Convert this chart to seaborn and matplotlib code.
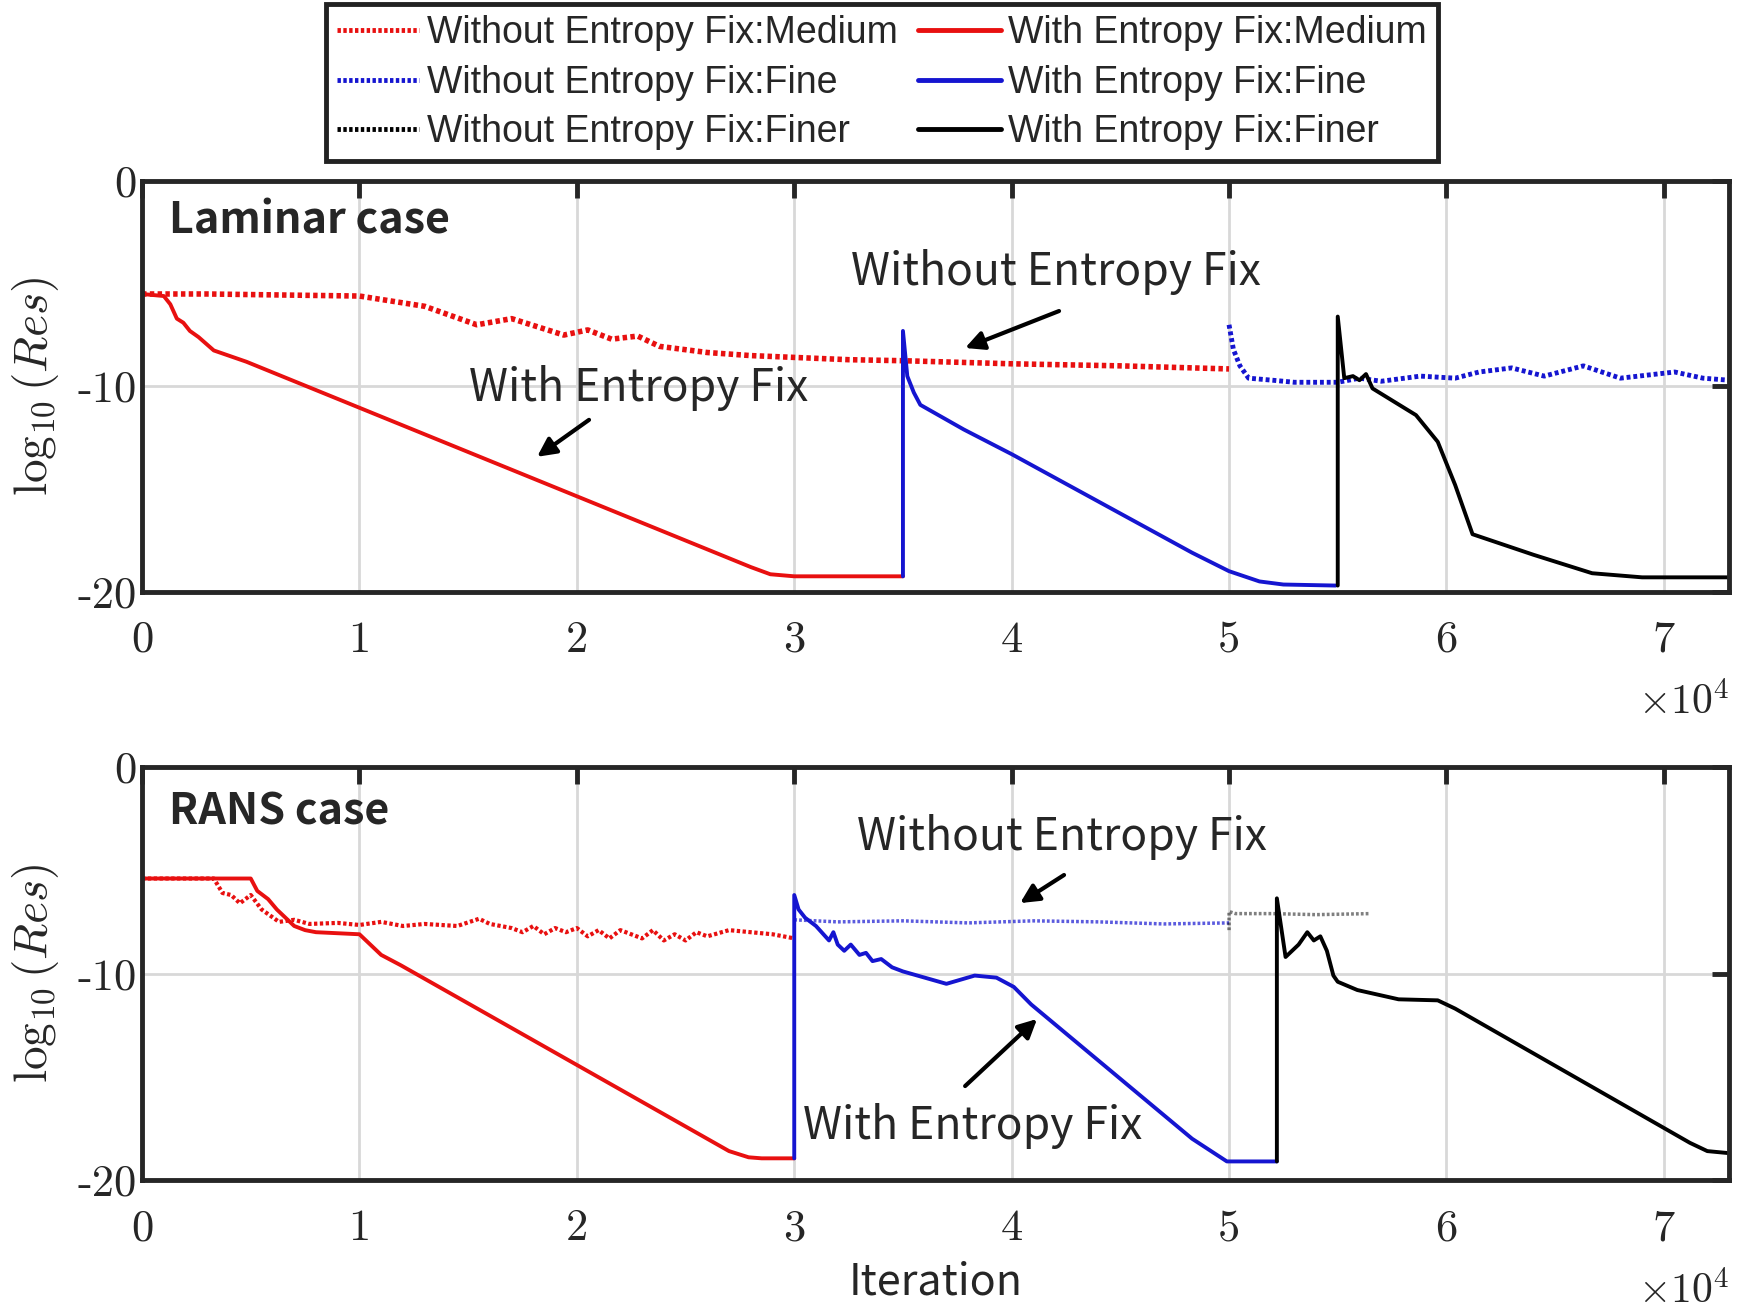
import matplotlib
matplotlib.use("Agg")
import matplotlib.pyplot as plt
import seaborn as sns
from matplotlib.lines import Line2D

# ---- data (x = iteration, y = log10 residual) ----
# Laminar case
lam_wo_medium_x = [0, 3000, 10000, 13000, 15400, 17000, 19400, 20500, 21600, 22800, 23800, 26000, 28000, 32500, 35000, 40000, 45000, 50000]
lam_wo_medium_y = [-5.5, -5.5, -5.6, -6.1, -7.0, -6.7, -7.5, -7.25, -7.7, -7.55, -8.05, -8.35, -8.5, -8.7, -8.75, -8.9, -9.0, -9.15]

lam_w_medium_x = [0, 1000, 1300, 1600, 1900, 2200, 2600, 3300, 4800, 28000, 28900, 30000, 35000]
lam_w_medium_y = [-5.5, -5.6, -6.0, -6.7, -6.9, -7.3, -7.6, -8.25, -8.8, -18.8, -19.15, -19.25, -19.25]

lam_w_fine_x = [35000, 35000, 35200, 35500, 35800, 37800, 40000, 48300, 50000, 51400, 52500, 54900]
lam_w_fine_y = [-19.25, -7.3, -9.5, -10.3, -10.9, -12.1, -13.3, -18.1, -19.0, -19.5, -19.65, -19.7]

lam_wo_fine_x = [50000, 50200, 50500, 50900, 52000, 53000, 55000, 56000, 57000, 58800, 60400, 61500, 63000, 64500, 66300, 68000, 70500, 71800, 73000]
lam_wo_fine_y = [-7.0, -8.2, -9.0, -9.6, -9.7, -9.8, -9.8, -9.6, -9.75, -9.5, -9.6, -9.3, -9.1, -9.5, -9.0, -9.6, -9.3, -9.6, -9.7]

lam_w_finer_x = [55000, 55000, 55300, 55700, 56000, 56300, 56600, 58600, 59600, 60400, 61200, 64000, 66700, 69000, 73000]
lam_w_finer_y = [-19.7, -6.6, -9.6, -9.5, -9.7, -9.4, -10.1, -11.4, -12.7, -14.8, -17.2, -18.2, -19.1, -19.3, -19.3]

# RANS case
rans_wo_medium_x = [0, 3300, 3700, 4100, 4500, 5000, 5500, 6300, 7000, 7700, 9000, 10000, 11000, 12000, 13000,
                    14500, 15500, 16000, 17000, 17500, 18000, 18500, 19000, 19500, 20000, 20500, 21000, 21500,
                    22000, 22500, 23000, 23500, 24000, 24500, 25000, 25500, 26000, 27000, 28000, 29000, 30000]
rans_wo_medium_y = [-5.4, -5.4, -6.1, -6.2, -6.6, -6.2, -6.9, -7.5, -7.4, -7.6, -7.55, -7.65, -7.5, -7.7, -7.6,
                    -7.7, -7.35, -7.6, -7.8, -8.0, -7.7, -8.1, -7.8, -8.0, -7.8, -8.2, -7.9, -8.3,
                    -7.9, -8.1, -8.3, -7.9, -8.4, -8.1, -8.4, -8.0, -8.2, -7.9, -8.0, -8.1, -8.3]

rans_w_medium_x = [0, 5000, 5300, 5800, 6200, 6600, 7000, 7500, 8000, 9000, 10000, 10400, 11000, 11900, 27000, 27900, 28500, 30000]
rans_w_medium_y = [-5.4, -5.4, -6.0, -6.4, -6.9, -7.3, -7.7, -7.9, -8.0, -8.05, -8.1, -8.5, -9.1, -9.6, -18.6, -18.9, -18.95, -18.95]

rans_w_fine_x = [30000, 30000, 30200, 30500, 31000, 31300, 31600, 31800, 32000, 32300, 32600, 33000, 33300, 33600,
                 34000, 34500, 35000, 36000, 37000, 38300, 39300, 40100, 40900, 48300, 49900, 51000, 52200]
rans_w_fine_y = [-18.95, -6.2, -6.9, -7.3, -7.7, -8.05, -8.4, -8.0, -8.6, -8.9, -8.6, -9.1, -9.0, -9.4,
                 -9.3, -9.7, -9.9, -10.2, -10.5, -10.1, -10.2, -10.65, -11.5, -18.0, -19.1, -19.1, -19.1]

rans_wo_fine_x = [30000, 32000, 35000, 38000, 41000, 44000, 47000, 50000]
rans_wo_fine_y = [-7.4, -7.5, -7.45, -7.55, -7.45, -7.5, -7.6, -7.55]

rans_w_finer_x = [52200, 52200, 52600, 53200, 53600, 53900, 54200, 54500, 54800, 55000, 55900, 57800, 59600, 60400, 71200, 72000, 73000]
rans_w_finer_y = [-19.1, -6.36, -9.2, -8.6, -8.0, -8.4, -8.2, -8.9, -10.1, -10.4, -10.8, -11.25, -11.3, -11.7, -18.2, -18.6, -18.7]

rans_wo_finer_x = [50000, 50000, 50300, 52000, 54000, 56500]
rans_wo_finer_y = [-7.9, -7.0, -7.1, -7.1, -7.15, -7.1]

x_ticks = [0, 10000, 20000, 30000, 40000, 50000, 60000, 70000]
x_tick_labels = ["0", "1", "2", "3", "4", "5", "6", "7"]
y_ticks = [-20, -10, 0]
y_tick_labels = ["-20", "-10", "0"]

RED, BLUE, BLACK = "#e81010", "#1515d0", "black"
DOT = (0, (0.8, 0.6))

sns.set_style("white")
plt.rcParams["mathtext.fontset"] = "cm"
plt.rcParams["axes.unicode_minus"] = False

SANS = ["Noto Sans CJK KR", "DejaVu Sans"]

fig = plt.figure(figsize=(17.43, 13.12), dpi=100)
ax_top = fig.add_axes([0.0815, 0.549, 0.9105, 0.313])
ax_bot = fig.add_axes([0.0815, 0.1006, 0.9105, 0.3148])


def line(ax, x, y, color, dotted=False, lw=2.8, alpha=1.0):
    ls = DOT if dotted else "-"
    sns.lineplot(x=x, y=y, ax=ax, color=color, linestyle=ls, linewidth=lw,
                 estimator=None, sort=False, alpha=alpha)


# Laminar
line(ax_top, lam_wo_medium_x, lam_wo_medium_y, RED, dotted=True, lw=4)
line(ax_top, lam_w_medium_x, lam_w_medium_y, RED)
line(ax_top, lam_w_fine_x, lam_w_fine_y, BLUE)
line(ax_top, lam_wo_fine_x, lam_wo_fine_y, BLUE, dotted=True, lw=3.5)
line(ax_top, lam_w_finer_x, lam_w_finer_y, BLACK)

# RANS
line(ax_bot, rans_wo_medium_x, rans_wo_medium_y, RED, dotted=True, lw=3)
line(ax_bot, rans_w_medium_x, rans_w_medium_y, RED)
line(ax_bot, rans_wo_fine_x, rans_wo_fine_y, BLUE, dotted=True, lw=2.5, alpha=0.7)
line(ax_bot, rans_w_fine_x, rans_w_fine_y, BLUE)
line(ax_bot, rans_wo_finer_x, rans_wo_finer_y, BLACK, dotted=True, lw=2.5, alpha=0.5)
line(ax_bot, rans_w_finer_x, rans_w_finer_y, BLACK)

for ax in (ax_top, ax_bot):
    ax.set_xlim(0, 73000)
    ax.set_ylim(-20, 0)
    ax.set_xticks(x_ticks)
    ax.set_xticklabels(x_tick_labels, family="cmr10", fontsize=32)
    ax.set_yticks(y_ticks)
    ax.set_yticklabels(y_tick_labels, family="cmr10", fontsize=32)
    ax.tick_params(direction="in", length=12, width=3.5, top=True, right=True, color="#262626")
    ax.tick_params(axis="x", pad=21)
    ax.tick_params(axis="y", pad=4)
    ax.grid(True, color="#d8d8d8", linewidth=2)
    ax.set_axisbelow(True)
    for s in ax.spines.values():
        s.set_linewidth(3.5)
        s.set_color("#262626")
    ax.set_ylabel(r"$\log_{10}(Res)$", fontsize=34, labelpad=12)
    ax.set_xlabel("")
    ax.text(1.0, -0.27, r"$\times 10^4$", transform=ax.transAxes, ha="right", va="center", fontsize=30)

ax_bot.set_xlabel("Iteration", family=SANS, fontsize=31, labelpad=8)

# panel titles
ax_top.text(0.017, 0.905, "Laminar case", transform=ax_top.transAxes, family=SANS,
            fontweight="bold", fontsize=31, va="center", ha="left")
ax_bot.text(0.017, 0.892, "RANS case", transform=ax_bot.transAxes, family=SANS,
            fontweight="bold", fontsize=31, va="center", ha="left")

arrow = dict(arrowstyle="-|>", lw=3, color="black", mutation_scale=28, shrinkA=0, shrinkB=0)
ax_top.text(42040, -4.43, "Without Entropy Fix", family=SANS, fontsize=32, ha="center", va="center")
ax_top.annotate("", xy=(37860, -8.13), xytext=(42180, -6.33), arrowprops=arrow)
ax_top.text(22860, -10.1, "With Entropy Fix", family=SANS, fontsize=32, ha="center", va="center")
ax_top.annotate("", xy=(18170, -13.43), xytext=(20560, -11.63), arrowprops=arrow)

ax_bot.text(42320, -3.39, "Without Entropy Fix", family=SANS, fontsize=32, ha="center", va="center")
ax_bot.annotate("", xy=(40390, -6.59), xytext=(42410, -5.23), arrowprops=arrow)
ax_bot.text(38220, -17.38, "With Entropy Fix", family=SANS, fontsize=32, ha="center", va="center")
ax_bot.annotate("", xy=(41170, -12.2), xytext=(37860, -15.45), arrowprops=arrow)

# legend (column-major: without / with)
handles = [
    Line2D([], [], color=RED, linestyle=(0, (0.7, 0.5)), lw=3.5),
    Line2D([], [], color=BLUE, linestyle=(0, (0.7, 0.5)), lw=3.5),
    Line2D([], [], color=BLACK, linestyle=(0, (0.7, 0.5)), lw=3.5),
    Line2D([], [], color=RED, lw=3.5),
    Line2D([], [], color=BLUE, lw=3.5),
    Line2D([], [], color=BLACK, lw=3.5),
]
labels = [
    "Without Entropy Fix:Medium", "Without Entropy Fix:Fine", "Without Entropy Fix:Finer",
    "With Entropy Fix:Medium", "With Entropy Fix:Fine", "With Entropy Fix:Finer",
]
leg = fig.legend(handles, labels, ncol=2, loc="upper center", bbox_to_anchor=(0.506, 0.997),
                 prop={"family": "Liberation Sans", "size": 27}, frameon=True, fancybox=False,
                 edgecolor="#222222", framealpha=1, borderpad=0.3, labelspacing=0.36,
                 handlelength=2.2, handletextpad=0.2, columnspacing=0.55, borderaxespad=0)
leg.get_frame().set_linewidth(3.5)

fig.savefig("out.png", dpi=100)
